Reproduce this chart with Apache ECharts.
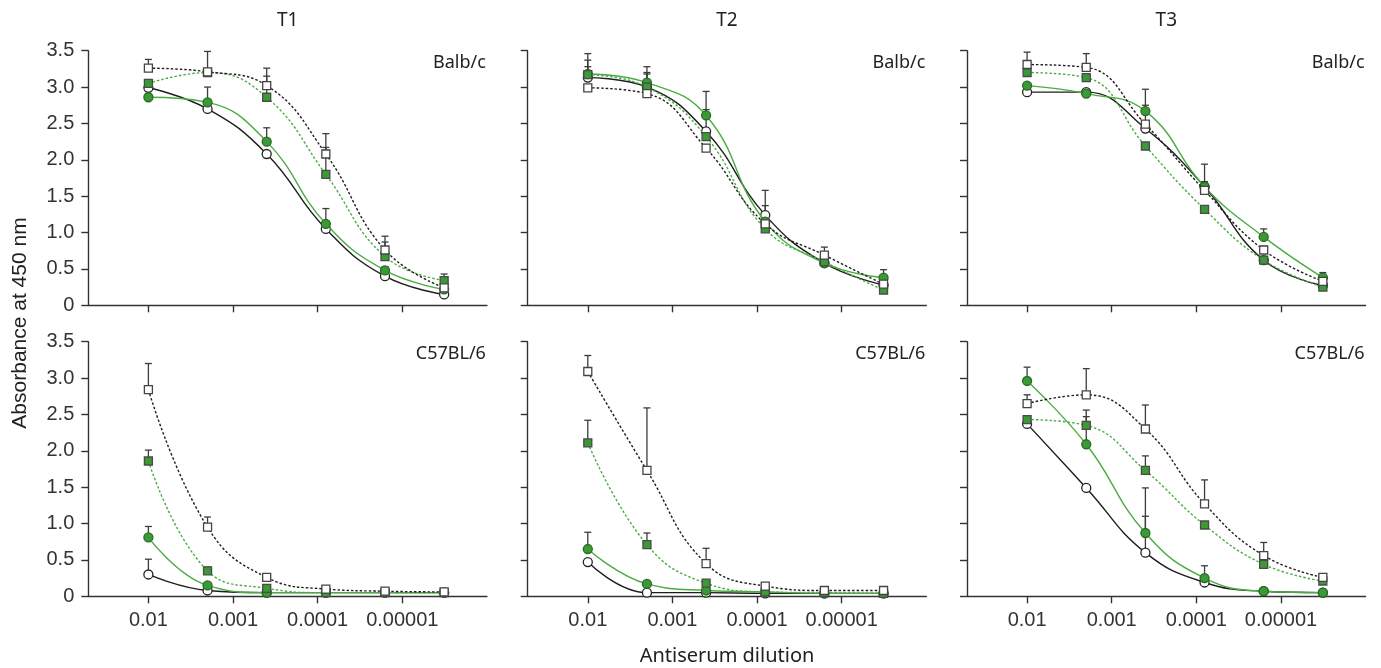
<!DOCTYPE html>
<html>
<head>
<meta charset="utf-8">
<script src="https://cdn.jsdelivr.net/npm/echarts@6/dist/echarts.min.js"></script>
<style>
html,body{margin:0;padding:0;background:#fff;}
#chart{width:1381px;height:668px;}
</style>
</head>
<body>
<div id="chart"></div>
<script>
// ---------- DATA ----------
const dilutions = [0.01, 0.002, 0.0004, 0.00008, 0.000016, 0.0000032];
const tickDilutions = [0.01, 0.001, 0.0001, 0.00001];
const tickLabels = ['0.01', '0.001', '0.0001', '0.00001'];
const yTicks = [0, 0.5, 1.0, 1.5, 2.0, 2.5, 3.0, 3.5];
const panelTitles = ['T1', 'T2', 'T3'];
const strainLabels = ['Balb/c', 'C57BL/6'];
const seriesNames = ['open circle', 'green circle', 'green square', 'open square'];

// T1 Balb/c
const T1_Balb_openCircle   = [2.99, 2.70, 2.08, 1.05, 0.40, 0.15];
const T1_Balb_greenCircle  = [2.86, 2.79, 2.25, 1.12, 0.48, 0.22];
const T1_Balb_greenSquare  = [3.05, 3.20, 2.86, 1.80, 0.67, 0.34];
const T1_Balb_openSquare   = [3.26, 3.21, 3.02, 2.08, 0.76, 0.24];
const T1_Balb_openCircleErr  = [0, 0, 0, 0.06, 0, 0];
const T1_Balb_greenCircleErr = [0, 0.21, 0.19, 0.21, 0.05, 0];
const T1_Balb_greenSquareErr = [0, 0, 0.29, 0.37, 0.20, 0.09];
const T1_Balb_openSquareErr  = [0.12, 0.28, 0.24, 0.28, 0.19, 0];

// T2 Balb/c
const T2_Balb_openCircle   = [3.13, 3.00, 2.39, 1.24, 0.58, 0.28];
const T2_Balb_greenCircle  = [3.18, 3.06, 2.61, 1.15, 0.58, 0.38];
const T2_Balb_greenSquare  = [3.17, 3.00, 2.32, 1.05, 0.60, 0.21];
const T2_Balb_openSquare   = [2.99, 2.91, 2.16, 1.12, 0.69, 0.29];
const T2_Balb_openCircleErr  = [0.33, 0.20, 0.30, 0.34, 0, 0];
const T2_Balb_greenCircleErr = [0.19, 0.22, 0.33, 0.22, 0.04, 0.11];
const T2_Balb_greenSquareErr = [0.11, 0.18, 0.10, 0.10, 0.05, 0];
const T2_Balb_openSquareErr  = [0, 0, 0.05, 0.10, 0.11, 0];

// T3 Balb/c
const T3_Balb_openCircle   = [2.93, 2.93, 2.43, 1.63, 0.62, 0.27];
const T3_Balb_greenCircle  = [3.02, 2.91, 2.67, 1.63, 0.94, 0.38];
const T3_Balb_greenSquare  = [3.20, 3.13, 2.19, 1.32, 0.62, 0.25];
const T3_Balb_openSquare   = [3.31, 3.27, 2.49, 1.58, 0.76, 0.33];
const T3_Balb_openCircleErr  = [0, 0, 0.05, 0, 0, 0];
const T3_Balb_greenCircleErr = [0.03, 0, 0.30, 0.07, 0.11, 0.07];
const T3_Balb_greenSquareErr = [0, 0, 0, 0, 0, 0];
const T3_Balb_openSquareErr  = [0.17, 0.19, 0.26, 0.36, 0.05, 0];

// T1 C57BL/6
const T1_C57_openCircle   = [0.30, 0.08, 0.05, 0.05, 0.05, 0.05];
const T1_C57_greenCircle  = [0.81, 0.15, 0.05, 0.05, 0.05, 0.05];
const T1_C57_greenSquare  = [1.86, 0.35, 0.11, 0.05, 0.05, 0.05];
const T1_C57_openSquare   = [2.84, 0.95, 0.26, 0.10, 0.07, 0.06];
const T1_C57_openCircleErr  = [0.21, 0, 0, 0, 0, 0];
const T1_C57_greenCircleErr = [0.15, 0, 0, 0, 0, 0];
const T1_C57_greenSquareErr = [0.15, 0.05, 0, 0, 0, 0];
const T1_C57_openSquareErr  = [0.36, 0.14, 0, 0, 0, 0];

// T2 C57BL/6
const T2_C57_openCircle   = [0.47, 0.05, 0.05, 0.04, 0.04, 0.04];
const T2_C57_greenCircle  = [0.65, 0.17, 0.08, 0.06, 0.04, 0.04];
const T2_C57_greenSquare  = [2.11, 0.71, 0.18, 0.06, 0.05, 0.04];
const T2_C57_openSquare   = [3.09, 1.73, 0.45, 0.14, 0.08, 0.08];
const T2_C57_openCircleErr  = [0, 0, 0, 0, 0, 0];
const T2_C57_greenCircleErr = [0.23, 0, 0, 0, 0, 0];
const T2_C57_greenSquareErr = [0.31, 0.16, 0, 0, 0, 0];
const T2_C57_openSquareErr  = [0.22, 0.86, 0.21, 0, 0, 0];

// T3 C57BL/6
const T3_C57_openCircle   = [2.37, 1.49, 0.60, 0.19, 0.07, 0.05];
const T3_C57_greenCircle  = [2.96, 2.09, 0.87, 0.25, 0.07, 0.05];
const T3_C57_greenSquare  = [2.43, 2.35, 1.73, 0.98, 0.44, 0.21];
const T3_C57_openSquare   = [2.65, 2.77, 2.30, 1.27, 0.56, 0.26];
const T3_C57_openCircleErr  = [0, 0, 0.50, 0.10, 0, 0];
const T3_C57_greenCircleErr = [0.19, 0.47, 0.62, 0.17, 0, 0];
const T3_C57_greenSquareErr = [0.05, 0.12, 0.20, 0, 0, 0];
const T3_C57_openSquareErr  = [0.12, 0.36, 0.33, 0.33, 0.18, 0.04];

// ---------- LAYOUT / STYLE ----------
const gridLefts = [88.3, 527.7, 967];
const gridTops = [50.7, 341.7];
const gridWidth = 398.6;
const gridHeight = 254.6;
const xLeftDilution = 0.0513;   // axis edge (left)
const xRightDilution = 0.000001; // axis edge (right)
const AX = '#333333';
const NUM_FONT = "'Liberation Sans', Arial, sans-serif";
const TXT_FONT = "'Noto Sans', sans-serif";

const panelData = [
  [[T1_Balb_openCircle, T1_Balb_greenCircle, T1_Balb_greenSquare, T1_Balb_openSquare],
   [T1_Balb_openCircleErr, T1_Balb_greenCircleErr, T1_Balb_greenSquareErr, T1_Balb_openSquareErr]],
  [[T2_Balb_openCircle, T2_Balb_greenCircle, T2_Balb_greenSquare, T2_Balb_openSquare],
   [T2_Balb_openCircleErr, T2_Balb_greenCircleErr, T2_Balb_greenSquareErr, T2_Balb_openSquareErr]],
  [[T3_Balb_openCircle, T3_Balb_greenCircle, T3_Balb_greenSquare, T3_Balb_openSquare],
   [T3_Balb_openCircleErr, T3_Balb_greenCircleErr, T3_Balb_greenSquareErr, T3_Balb_openSquareErr]],
  [[T1_C57_openCircle, T1_C57_greenCircle, T1_C57_greenSquare, T1_C57_openSquare],
   [T1_C57_openCircleErr, T1_C57_greenCircleErr, T1_C57_greenSquareErr, T1_C57_openSquareErr]],
  [[T2_C57_openCircle, T2_C57_greenCircle, T2_C57_greenSquare, T2_C57_openSquare],
   [T2_C57_openCircleErr, T2_C57_greenCircleErr, T2_C57_greenSquareErr, T2_C57_openSquareErr]],
  [[T3_C57_openCircle, T3_C57_greenCircle, T3_C57_greenSquare, T3_C57_openSquare],
   [T3_C57_openCircleErr, T3_C57_greenCircleErr, T3_C57_greenSquareErr, T3_C57_openSquareErr]]
];

const seriesStyles = [
  {symbol: 'circle', size: 9, fill: '#ffffff', border: '#222222', line: '#1e1e1e', dash: 'solid'},
  {symbol: 'circle', size: 9, fill: '#3a9a35', border: '#2a6a26', line: '#4aac42', dash: 'solid'},
  {symbol: 'rect', size: 8, fill: '#3a9a35', border: '#4a4a4a', line: '#4aac42', dash: [2.5, 2]},
  {symbol: 'rect', size: 8, fill: '#ffffff', border: '#444444', line: '#1e1e1e', dash: [2.5, 2]}
];

const toX = d => -Math.log10(d);
const tickVals = tickDilutions.map(toX);
const xMin = toX(xLeftDilution);
const xMax = toX(xRightDilution);
const labelFor = v => {
  let best = 0;
  tickVals.forEach((t, i) => { if (Math.abs(t - v) < Math.abs(tickVals[best] - v)) best = i; });
  return tickLabels[best];
};

const grids = [], xAxes = [], yAxes = [], series = [];
for (let i = 0; i < 6; i++) {
  const row = Math.floor(i / 3), col = i % 3;
  grids.push({left: gridLefts[col], top: gridTops[row], width: gridWidth, height: gridHeight,
    containLabel: false, outerBoundsMode: 'none'});
  xAxes.push({
    gridIndex: i, type: 'value', min: xMin, max: xMax,
    axisLine: {show: true, onZero: false, lineStyle: {color: AX, width: 1.4}},
    axisTick: {show: true, customValues: tickVals, length: 7, inside: false, lineStyle: {color: AX, width: 1.4}},
    axisLabel: {show: row === 1, customValues: tickVals, formatter: labelFor, fontSize: 20,
      fontFamily: NUM_FONT, color: '#333', margin: 14, hideOverlap: false},
    splitLine: {show: false}
  });
  yAxes.push({
    gridIndex: i, type: 'value', min: 0, max: 3.5, interval: 0.5,
    axisLine: {show: true, onZero: false, lineStyle: {color: AX, width: 1.4}},
    axisTick: {show: true, length: 7, inside: false, lineStyle: {color: AX, width: 1.4}},
    axisLabel: {show: col === 0, fontSize: 20, fontFamily: NUM_FONT, color: '#333', margin: 14,
      formatter: v => (v === 0 ? '0' : v.toFixed(1)), showMinLabel: true, showMaxLabel: true},
    splitLine: {show: false}
  });
  const vals = panelData[i][0], errs = panelData[i][1];
  // error bars (drawn under markers)
  for (let s = 0; s < 4; s++) {
    const ed = [];
    dilutions.forEach((d, k) => { if (errs[s][k] > 0) ed.push([toX(d), vals[s][k], errs[s][k]]); });
    series.push({
      type: 'custom', xAxisIndex: i, yAxisIndex: i, z: 1, silent: true, animation: false,
      data: ed,
      renderItem: (params, api) => {
        const x = api.value(0), y = api.value(1), e = api.value(2);
        const p0 = api.coord([x, y]);
        const p1 = api.coord([x, y + e]);
        const st = {stroke: '#3c3c3c', lineWidth: 1.3};
        return {type: 'group', children: [
          {type: 'line', shape: {x1: p0[0], y1: p0[1], x2: p1[0], y2: p1[1]}, style: st},
          {type: 'line', shape: {x1: p1[0] - 3.5, y1: p1[1], x2: p1[0] + 3.5, y2: p1[1]}, style: st}
        ]};
      }
    });
  }
  for (let s = 0; s < 4; s++) {
    const st = seriesStyles[s];
    series.push({
      name: seriesNames[s], type: 'line', xAxisIndex: i, yAxisIndex: i, z: 2 + s,
      data: dilutions.map((d, k) => [toX(d), vals[s][k]]),
      smooth: 0.45, symbol: st.symbol, symbolSize: st.size, showSymbol: true, showAllSymbol: true,
      silent: true, animation: false,
      lineStyle: {color: st.line, width: 1.4, type: st.dash},
      itemStyle: {color: st.fill, borderColor: st.border, borderWidth: 1.3}
    });
  }
}

const graphics = [];
panelTitles.forEach((t, c) => {
  graphics.push({type: 'text', x: gridLefts[c] + gridWidth / 2, y: 21,
    style: {text: t, fontSize: 19, fontFamily: TXT_FONT, fill: '#222', textAlign: 'center', textVerticalAlign: 'middle'}});
});
strainLabels.forEach((t, r) => {
  for (let c = 0; c < 3; c++) {
    graphics.push({type: 'text', x: gridLefts[c] + gridWidth - 1, y: gridTops[r] + 12,
      style: {text: t, fontSize: 18, fontFamily: TXT_FONT, fill: '#222', textAlign: 'right', textVerticalAlign: 'middle'}});
  }
});
graphics.push({type: 'text', x: 20, y: 323, rotation: Math.PI / 2,
  style: {text: 'Absorbance at 450 nm', fontSize: 21, fontFamily: NUM_FONT, fill: '#222', textAlign: 'center', textVerticalAlign: 'middle'}});
graphics.push({type: 'text', x: 727, y: 656,
  style: {text: 'Antiserum dilution', fontSize: 20, fontFamily: TXT_FONT, fill: '#222', textAlign: 'center', textVerticalAlign: 'middle'}});

const chart = echarts.init(document.getElementById('chart'), null, {renderer: 'canvas'});
chart.setOption({
  animation: false,
  backgroundColor: '#ffffff',
  grid: grids, xAxis: xAxes, yAxis: yAxes, series: series,
  graphic: graphics
});
</script>
</body>
</html>
